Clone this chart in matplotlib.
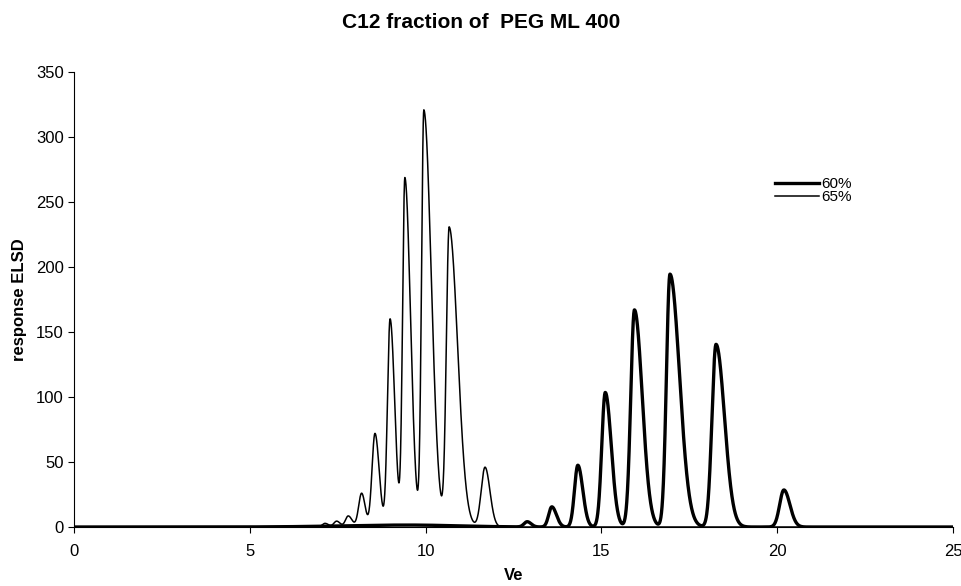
import numpy as np
import matplotlib
matplotlib.use('Agg')
import matplotlib.pyplot as plt

plt.rcParams['font.family'] = ['Liberation Sans', 'DejaVu Sans']

# peak table: centre (Ve), height, left / right width
c65 = [7.14, 7.47, 7.80, 8.18, 8.56, 8.99, 9.41, 9.95, 10.67, 11.69]
h65 = [2.8, 4.5, 8.5, 26, 72, 160, 268, 320, 230, 46]
sl65 = [0.08, 0.08, 0.08, 0.085, 0.085, 0.075, 0.065, 0.065, 0.08, 0.11]
sr65 = [0.10, 0.10, 0.11, 0.10, 0.12, 0.13, 0.16, 0.21, 0.24, 0.14]

c60 = [9.5, 12.89, 13.59, 14.33, 15.11, 15.94, 16.95, 18.26, 20.19]
h60 = [1.5, 4, 15.5, 47.5, 103.5, 167, 194.5, 140.5, 28.5]
sl60 = [1.8, 0.09, 0.09, 0.095, 0.10, 0.105, 0.10, 0.115, 0.12]
sr60 = [1.4, 0.11, 0.13, 0.14, 0.17, 0.22, 0.27, 0.24, 0.17]

x_ticks = [0, 5, 10, 15, 20, 25]
y_ticks = [0, 50, 100, 150, 200, 250, 300, 350]

ve = np.linspace(0, 25, 6001)


def trace(centres, heights, s_left, s_right):
    y = np.zeros_like(ve)
    for c, h, a, b in zip(centres, heights, s_left, s_right):
        s = np.where(ve < c, a, b)
        y += h * np.exp(-(ve - c)**2 / (2 * s**2))
    return y


y60 = trace(c60, h60, sl60, sr60)
y65 = trace(c65, h65, sl65, sr65)

fig = plt.figure(figsize=(9.62, 5.86), dpi=100)
ax = fig.add_axes([74/962, 1 - 527/586, (953 - 74)/962, (527 - 72)/586])

ax.plot(ve, y60, color='black', lw=2.4, label='60%')
ax.plot(ve, y65, color='black', lw=1.1, label='65%')

ax.set_xlim(0, 25)
ax.set_ylim(0, 350)
ax.set_xticks(x_ticks)
ax.set_yticks(y_ticks)
ax.spines['top'].set_visible(False)
ax.spines['right'].set_visible(False)
ax.tick_params(direction='out', length=4, width=0.8, labelsize=12, colors='black')
ax.tick_params(axis='x', pad=8)
ax.set_xlabel('Ve', fontsize=12, fontweight='bold', labelpad=7)
ax.set_ylabel('response ELSD', fontsize=12, fontweight='bold', labelpad=6)
fig.suptitle('C12 fraction of  PEG ML 400', fontsize=15, fontweight='bold', y=0.978)

ax.legend(loc='upper left', bbox_to_anchor=(775/962, 1 - 177/586),
          bbox_transform=fig.transFigure, frameon=False, fontsize=11,
          labelspacing=-0.05, handlelength=2.9, handletextpad=0.1,
          borderpad=0, borderaxespad=0)

fig.savefig('out.png', dpi=100)
